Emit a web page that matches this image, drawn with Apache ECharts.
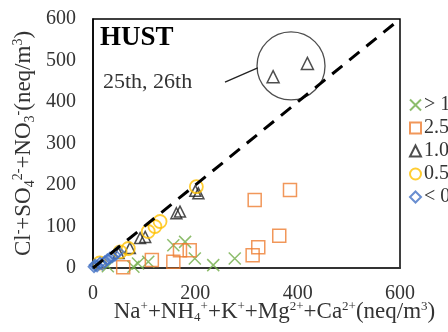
<!DOCTYPE html>
<html><head><meta charset="utf-8">
<script src="https://cdn.jsdelivr.net/npm/echarts@6/dist/echarts.min.js"></script>
<style>html,body{margin:0;padding:0;background:#fff}#c{width:448px;height:332px}</style>
</head><body><div id="c"></div>
<script>
const seriesNames = ['> 10 μm', '2.5–10 μm', '1.0–2.5 μm', '0.5–1.0 μm', '< 0.5 μm'];
const coarse = [[29,4],[79,3],[88,11],[108,15],[157,55],[180,63],[199,23],[235,7],[277,23]];
const pm25_10 = [[59,2],[115,19],[157,15],[170,43],[189,43],[312,31],[323,50],[364,78],[316,164],[385,188]];
const pm1_25 = [[50,36],[72,48],[92,72],[102,75],[163,132],[170,136],[206,180],[200,186]];
const pm05_1 = [[13,12],[53,39],[69,47],[108,88],[121,100],[131,112],[202,196]];
const pm05 = [[2,3],[4,7],[8,5],[14,12],[18,9],[23,15],[28,20],[33,24],[38,27],[43,31],[49,39]];
const zoomTri = [[352,461],[419,493]];
const zoomCircle = [[387,487]];
const leader = [[258,448],[322,482]];
const refLine = [[0,0],[600,600]];
const xTicks = [0, 200, 400, 600];
const yTicks = [0, 100, 200, 300, 400, 500, 600];

const FONT = '"Liberation Serif", "DejaVu Serif", serif';
const crossPath = 'path://M0,0L10,10M10,0L0,10';
const hollow = (c, w) => ({ color: 'rgba(255,255,255,0)', borderColor: c, borderWidth: w || 1.5 });

const chart = echarts.init(document.getElementById('c'), null, { renderer: 'canvas' });
const sup = { fontSize: 13, verticalAlign: 'top', fontFamily: FONT, color: '#333' };
const sub = { fontSize: 13, verticalAlign: 'bottom', fontFamily: FONT, color: '#333' };

chart.setOption({
  animation: false,
  textStyle: { fontFamily: FONT },
  grid: { left: 93, top: 19, right: 48, bottom: 64, containLabel: false, outerBoundsMode: 'none', show: true, borderColor: '#000', borderWidth: 1.5, backgroundColor: '#fff' },
  legend: {
    orient: 'vertical', left: 409, top: 95, padding: 0, itemGap: 3, itemWidth: 11, itemHeight: 11,
    textStyle: { fontSize: 20, fontFamily: FONT, color: '#333', padding: [0, 0, 0, -2] },
    data: seriesNames
  },
  xAxis: {
    type: 'value', min: xTicks[0], max: xTicks[xTicks.length - 1], interval: 200,
    axisLine: { lineStyle: { color: '#333', width: 2 } }, axisTick: { show: false }, splitLine: { show: false },
    axisLabel: { fontSize: 20, color: '#333', margin: 16, fontFamily: FONT },
    name: 'Na{sup|+}+NH{sub|4}{sup|+}+K{sup|+}+Mg{sup|2+}+Ca{sup|2+}(neq/m{sup|3})',
    nameLocation: 'middle', nameGap: 32, nameMoveOverlap: false,
    nameTextStyle: { fontSize: 23, color: '#333', fontFamily: FONT, lineHeight: 24, padding: [0, 0, 0, 56], rich: { sup, sub } }
  },
  yAxis: {
    type: 'value', min: yTicks[0], max: yTicks[yTicks.length - 1], interval: 100,
    axisLine: { lineStyle: { color: '#000', width: 1.5 } }, axisTick: { show: false }, splitLine: { show: false },
    axisLabel: { fontSize: 20, color: '#333', margin: 17, fontFamily: FONT },
    name: 'Cl{sup|-}+SO{sub|4}{sup|2-}+NO{sub|3}{sup|-}(neq/m{sup|3})',
    nameLocation: 'middle', nameRotate: 90, nameGap: 56, nameMoveOverlap: false,
    nameTextStyle: { fontSize: 23, color: '#333', fontFamily: FONT, lineHeight: 26, padding: [0, 0, 0, 0], rich: { sup: Object.assign({}, sup, { fontSize: 14 }), sub: Object.assign({}, sub, { fontSize: 14 }) } }
  },
  graphic: [
    { type: 'text', left: 100, top: 25, style: { text: 'HUST', font: 'bold 27px ' + FONT, fill: '#000' } },
    { type: 'text', left: 103, top: 71, style: { text: '25th, 26th', font: '22px ' + FONT, fill: '#333' } }
  ],
  series: [
    { name: seriesNames[0], type: 'scatter', data: coarse, symbol: crossPath, symbolSize: 12, itemStyle: hollow('#70ad47', 1.5) },
    { name: seriesNames[1], type: 'scatter', data: pm25_10, symbol: 'rect', symbolSize: 13, itemStyle: hollow('#ed7d31', 1.5) },
    { name: seriesNames[2], type: 'scatter', data: pm1_25, symbol: 'triangle', symbolSize: 11, itemStyle: hollow('#222', 1.5) },
    { name: seriesNames[3], type: 'scatter', data: pm05_1, symbol: 'circle', symbolSize: 13, itemStyle: hollow('#ffc000', 1.8) },
    { name: seriesNames[4], type: 'scatter', data: pm05, symbol: 'diamond', symbolSize: 11, itemStyle: hollow('#4472c4', 1.8) },
    { type: 'line', data: refLine, symbol: 'none', z: 5, lineStyle: { color: '#000', width: 3, type: [13, 9] } },
    { type: 'scatter', data: zoomCircle, symbol: 'circle', symbolSize: 68, z: 3, itemStyle: hollow('#222', 1.3), silent: true },
    { type: 'line', data: leader, symbol: 'none', z: 3, lineStyle: { color: '#222', width: 1.3 }, silent: true },
    { type: 'scatter', data: zoomTri, symbol: 'triangle', symbolSize: 12, z: 4, itemStyle: hollow('#222', 1.5), silent: true }
  ]
});
</script></body></html>
